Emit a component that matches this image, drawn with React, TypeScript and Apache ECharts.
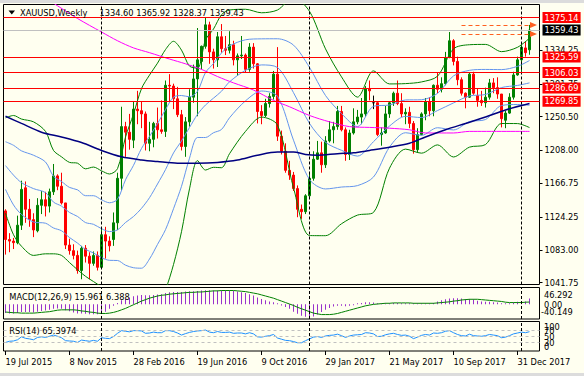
import React, { useEffect, useRef } from 'react';
import * as echarts from 'echarts';

// ---------- price data (weekly candles, bar 0 = 19 Jul 2015) ----------
const OPEN = [1132,1096,1094,1092,1114,1161,1134,1121,1107,1139,1146,1138,1156,1176,1163,1142,1089,1082,1076,1057,1085,1075,1066,1076,1061,1102,1094,1096,1117,1173,1238,1231,1221,1260,1258,1254,1217,1222,1242,1234,1232,1290,1289,1273,1253,1213,1244,1275,1298,1320,1339,1366,1332,1322,1351,1336,1334,1341,1322,1327,1328,1310,1338,1317,1257,1252,1267,1276,1304,1226,1207,1183,1177,1160,1134,1131,1151,1173,1197,1205,1190,1220,1234,1238,1257,1234,1203,1230,1244,1250,1254,1286,1268,1268,1228,1230,1254,1268,1280,1267,1254,1256,1242,1209,1228,1254,1269,1258,1290,1285,1292,1325,1346,1320,1297,1280,1275,1304,1277,1271,1268,1275,1293,1287,1279,1246,1255,1275,1303,1322,1337,1334.60];
const HIGH = [1134,1104,1098,1126,1170,1169,1147,1129,1148,1157,1156,1160,1191,1178,1180,1142,1097,1090,1082,1088,1089,1080,1081,1081,1111,1112,1100,1130,1180,1263,1244,1254,1270,1283,1270,1257,1244,1244,1262,1271,1296,1304,1292,1288,1259,1250,1285,1316,1362,1340,1375,1370,1336,1357,1367,1352,1358,1346,1330,1352,1330,1343,1343,1318,1265,1273,1280,1308,1338,1233,1217,1195,1181,1164,1140,1153,1181,1207,1220,1219,1226,1245,1244,1264,1264,1237,1234,1261,1259,1274,1289,1296,1277,1270,1237,1264,1270,1282,1296,1280,1261,1263,1245,1236,1256,1274,1275,1291,1306,1300,1332,1357,1348,1326,1300,1281,1306,1307,1286,1283,1287,1298,1299,1300,1279,1258,1280,1307,1326,1341,1345,1365.92];
const LOW = [1077,1080,1084,1090,1108,1117,1112,1099,1105,1128,1125,1130,1152,1158,1140,1084,1077,1071,1053,1046,1067,1046,1063,1057,1060,1072,1081,1088,1108,1157,1200,1209,1211,1241,1236,1208,1207,1212,1223,1229,1225,1270,1260,1250,1208,1200,1238,1268,1251,1310,1336,1317,1311,1313,1331,1328,1330,1315,1302,1323,1306,1307,1311,1242,1241,1250,1262,1272,1220,1203,1180,1171,1157,1124,1122,1128,1148,1170,1196,1180,1186,1218,1217,1234,1232,1195,1196,1228,1241,1241,1250,1271,1260,1226,1214,1229,1249,1264,1265,1250,1241,1236,1204,1205,1227,1246,1251,1251,1280,1281,1290,1324,1315,1290,1277,1261,1274,1278,1263,1264,1262,1272,1280,1273,1237,1236,1254,1272,1302,1307,1326,1328.37];
const CLOSE = [1096,1094,1092,1114,1159,1134,1121,1108,1139,1146,1138,1156,1176,1163,1142,1089,1082,1076,1057,1085,1075,1066,1076,1061,1102,1094,1088,1117,1173,1238,1231,1222,1260,1258,1254,1217,1222,1242,1234,1232,1290,1289,1273,1253,1213,1244,1275,1298,1322,1339,1366,1332,1322,1351,1336,1334,1341,1322,1327,1328,1310,1338,1317,1257,1252,1267,1276,1304,1226,1207,1183,1177,1160,1134,1131,1151,1173,1197,1205,1190,1220,1234,1238,1257,1234,1203,1230,1244,1250,1254,1286,1283,1268,1228,1230,1254,1268,1280,1267,1254,1256,1242,1209,1228,1254,1269,1258,1290,1285,1292,1325,1346,1320,1297,1280,1275,1304,1280,1271,1268,1275,1293,1287,1279,1248,1255,1275,1303,1322,1338,1331,1359.43];

// ---------- Bollinger bands (20,2) green and (20,1) light blue, read at these bars ----------
const BAND_BARS = [0,2,4,7,10,12,14,16,18,20,22,24,26,28,30,32,34,36,38,40,42,44,46,48,50,52,54,56,60,64,68,72,76,80,84,88,92,96,100,104,108,112,116,120,124,128,131];
const BB2_UPPER = [1249,1252,1247.5,1244,1232,1208,1200,1193,1192,1184.9,1187.1,1182.4,1178.4,1185.1,1224.8,1253.7,1285.8,1302.8,1317.8,1334.9,1345.3,1334.2,1314.1,1311.6,1347,1360.8,1378.7,1384.7,1385.6,1381.2,1384.7,1400.3,1383,1335.8,1300.6,1275.1,1308.1,1291.7,1292.1,1294.2,1301.4,1335.8,1341,1341.4,1332.3,1337.8,1349.2];
const BB1_UPPER = [1219,1214.5,1207.5,1202,1193.5,1175.5,1169,1161.5,1158.5,1151.1,1151.1,1146,1142.2,1146.6,1171.1,1189.3,1210.5,1225.7,1241.8,1259.4,1275.1,1277.1,1275.5,1282.5,1306.1,1317.3,1330.6,1339.5,1347.2,1348.4,1348.5,1340.5,1312.5,1277.1,1254.4,1238,1263.6,1265.2,1271.5,1271.8,1279.8,1301.8,1308.8,1309.9,1309.7,1313.8,1321.1];
const BB_MIDDLE = [1189,1177,1167.5,1160,1155,1143,1138,1130,1125,1117.3,1115.1,1109.6,1106,1108.1,1117.4,1124.9,1135.2,1148.6,1165.8,1183.9,1204.9,1220,1236.9,1253.4,1265.2,1273.8,1282.5,1294.3,1308.8,1315.6,1312.3,1280.7,1242,1218.3,1208.2,1200.9,1219.1,1238.7,1250.9,1249.4,1258.2,1267.8,1276.6,1278.4,1287.1,1289.8,1293];
const BB1_LOWER = [1159,1139.5,1127.5,1118,1116.5,1110.5,1107,1098.5,1091.5,1083.5,1079.1,1073.2,1069.8,1069.6,1063.7,1060.5,1059.9,1071.5,1089.8,1108.4,1134.7,1162.9,1198.3,1224.3,1224.3,1230.3,1234.4,1249.1,1270.4,1282.8,1276.1,1220.9,1171.5,1159.6,1162,1163.8,1174.6,1212.2,1230.3,1227,1236.6,1233.8,1244.4,1246.9,1264.5,1265.8,1264.9];
const BB2_LOWER = [1129,1102,1087.5,1076,1078,1078,1076,1067,1058,1049.7,1043.1,1036.8,1033.6,1031.1,1010,996.1,984.6,994.4,1013.8,1032.9,1064.5,1105.8,1159.7,1195.2,1183.4,1186.8,1186.3,1203.9,1232,1250,1239.9,1161.1,1101,1100.8,1115.8,1126.7,1130.1,1185.7,1209.7,1204.6,1215,1199.8,1212.2,1215.4,1241.9,1241.8,1236.8];

// ---------- moving averages (magenta, navy) ----------
const MAGENTA_BARS = [10,13,18,24,28,32,36,41,45,49,53,57,62,67,71,76,81,86,91,96,101,105,112,116,131];
const MAGENTA_MA = [1400,1390,1374,1357,1346,1337,1331,1323,1317,1310,1301,1293,1284,1271,1263,1252,1244,1238,1237,1236,1234,1230,1230,1232,1232];
const NAVY_BARS = [0,4,9,14,19,24,29,34,38,43,48,53,58,63,68,72,75,78,83,87,91,96,101,105,110,115,120,125,131];
const NAVY_MA = [1251,1242,1231,1225,1218,1208,1200,1196,1194,1192,1192,1193,1196,1202,1206,1206,1203,1202,1204,1205,1208,1212,1217,1225,1234,1242,1250,1259,1267];

// ---------- MACD(12,26,9) ----------
const MACD_HIST = [-24,-25,-25,-24,-21,-21,-21,-22,-20,-18,-17,-15,-12,-11,-12,-16,-19,-22,-25,-25,-26,-27,-27,-27,-24,-20,-12,-4,4,11,15,18,22,24,26,25,25,26,27,28,31,33,34,34,34,35,36,36,37,38,39,39,38,38,38,38,38,37,35,33,31,28,24,19,15,11,8,6,1,-3,-7,-12,-20,-26,-31,-34,-35,-33,-28,-21,-15,-10,-6,-4,-4,-5,-4,-2,2,4,6,6,5,3,2,2,3,4,4,3,3,2,1,1,1,2,2,4,8,11,14,16,17,17,16,15,15,14,10,8,7,7,6,5,2,2,3,5,7,9,8,15.961];
const MACD_SIGNAL = [-21,-22,-23,-23,-24,-24,-24,-24,-23,-22,-21,-20,-18,-16,-15,-15,-15,-15,-16,-18,-19,-21,-22,-24,-25,-25,-24,-22,-19,-15,-11,-6,-1,4,9,13,17,20,23,25,26,28,29,30,31,32,33,33,34,34,35,36,37,37,38,38,38,38,37,36,35,33,31,29,26,23,20,17,13,9,5,1,-3,-8,-12,-16,-20,-24,-26,-28,-28,-28,-27,-25,-22,-19,-16,-13,-10,-7,-4,-2,0,1,2,3,3,4,4,4,4,4,3,3,3,3,3,3,4,5,6,7,9,10,12,13,14,14,14,13,12,11,10,9,8,6,5,5,5,5,6,6.388];

// ---------- RSI(14) ----------
const RSI = [29,33,34,38,48,43,41,38,46,48,46,50,54,50,45,35,34,33,29,37,35,33,36,33,45,43,42,49,60,69,67,65,69,69,68,60,61,64,62,62,69,69,66,61,54,59,63,66,68,69,71,64,62,66,63,63,64,60,61,61,58,62,58,48,47,50,52,56,44,40,36,35,32,28,28,35,41,47,49,46,51,53,54,57,52,46,51,54,55,56,62,61,58,49,50,55,58,60,56,53,54,50,42,47,53,56,54,61,60,62,67,69,62,56,52,51,57,52,51,50,52,56,54,52,45,47,52,58,61,64,62,65.3974];
const RSI_LEVELS = [30, 50, 70];

// ---------- levels / labels ----------
const RED_LEVELS = [1375.14, 1325.59, 1306.03, 1286.69, 1269.85];
const LAST_PRICE = 1359.43;
const ARROW_LEVELS = [1365.92, 1354.5];
const ARROW_FROM_BAR = 114;
const ARROW_TO_BAR = 132;
const PRICE_TICKS = [1041.75, 1083.0, 1124.25, 1166.75, 1208.0, 1250.5, 1291.75, 1334.25];
const MACD_LABELS = ['46.292', '0.00', '-40.149'];
const RSI_LABELS = ['100', '70', '50', '30', '0'];
const SEPARATOR_BARS = [24, 76, 129];
const DATE_LABELS = ['19 Jul 2015', '8 Nov 2015', '28 Feb 2016', '19 Jun 2016', '9 Oct 2016', '29 Jan 2017', '21 May 2017', '10 Sep 2017', '31 Dec 2017'];
const DATE_LABEL_BARS = [0, 16, 32, 48, 64, 80, 96, 112, 128];
const SLOT_COUNT = 134;

const FONT = 'DejaVu Sans';
const FS = 8.25;

export default function App() {
  const ref = useRef<HTMLDivElement>(null);

  useEffect(() => {
    if (!ref.current) return;
    const chart = echarts.init(ref.current, null, { renderer: 'svg' });

    const cats = Array.from({ length: SLOT_COUNT }, (_, i) => String(i));
    const pairs = (bars: number[], vals: number[]) => bars.map((b, i) => [b, vals[i]]);
    const ind = (name: string, bars: number[], vals: number[], color: string, width = 1) => ({
      type: 'line', name, xAxisIndex: 0, yAxisIndex: 0,
      data: pairs(bars, vals), showSymbol: false, symbol: 'none', smooth: 0.3,
      lineStyle: { color, width }, z: 3, silent: true, clip: true,
    });
    const sepMarks = SEPARATOR_BARS.map((b) => ({ xAxis: b, lineStyle: { color: '#000', type: [3, 2], width: 1 } }));
    const boxLabel = (text: string, bg: string) => ({
      show: true, position: 'end', distance: 3, formatter: text,
      backgroundColor: bg, color: '#ffffff', fontFamily: FONT, fontSize: FS,
      lineHeight: 10, padding: [1, 2, 0, 2],
    });
    const arrowStyle = { color: '#ff5f1f', type: [4, 3], width: 1 };

    const candles = OPEN.map((o, i) => [o, CLOSE[i], LOW[i], HIGH[i]]);
    const isDateBar = (idx: number) => DATE_LABEL_BARS.indexOf(idx) >= 0;
    const textStyle = { fontFamily: FONT, fontSize: FS, fill: '#000' };

    const option: any = {
      animation: false,
      backgroundColor: '#fffff0',
      grid: [
        { left: 3.5, top: 4.5, width: 536, height: 280, show: true, borderColor: '#000', borderWidth: 1, backgroundColor: 'transparent' },
        { left: 3.5, top: 287.5, width: 536, height: 31.5, show: true, borderColor: '#000', borderWidth: 1, backgroundColor: 'transparent' },
        { left: 3.5, top: 321.5, width: 536, height: 29.5, show: true, borderColor: '#000', borderWidth: 1, backgroundColor: 'transparent' },
      ],
      xAxis: [0, 1, 2].map((g) => ({
        type: 'category', gridIndex: g, data: cats, boundaryGap: true,
        axisLine: { show: false }, splitLine: { show: false },
        axisTick: g === 2
          ? { show: true, alignWithLabel: true, interval: (i: number) => isDateBar(i), length: 4, lineStyle: { color: '#000' } }
          : { show: false },
        axisLabel: g === 2
          ? {
              show: true, interval: (i: number) => isDateBar(i), align: 'left', margin: 7,
              formatter: (_v: string, i: number) => DATE_LABELS[DATE_LABEL_BARS.indexOf(i)] || '',
              fontFamily: FONT, fontSize: FS, color: '#000',
            }
          : { show: false },
      })),
      yAxis: [
        {
          type: 'value', gridIndex: 0, position: 'right', min: 1039.4, max: 1391.6,
          splitLine: { show: false }, axisLine: { show: false },
          axisTick: { show: true, customValues: PRICE_TICKS, length: 3, lineStyle: { color: '#000' } },
          axisLabel: { customValues: PRICE_TICKS, formatter: (v: number) => v.toFixed(2), margin: 5, fontFamily: FONT, fontSize: FS, color: '#000' },
        },
        { type: 'value', gridIndex: 1, min: -40.149, max: 46.292, splitLine: { show: false }, axisLine: { show: false }, axisTick: { show: false }, axisLabel: { show: false } },
        { type: 'value', gridIndex: 2, min: 0, max: 100, splitLine: { show: false }, axisLine: { show: false }, axisTick: { show: false }, axisLabel: { show: false } },
      ],
      series: [
        {
          type: 'candlestick', name: 'XAUUSD', xAxisIndex: 0, yAxisIndex: 0, data: candles, barWidth: 2, z: 2,
          itemStyle: { color: '#008000', color0: '#ff0000', borderColor: '#008000', borderColor0: '#ff0000', borderWidth: 1, borderColorDoji: '#000000' },
          markLine: {
            silent: true, symbol: ['none', 'none'], animation: false, label: { show: false },
            data: [
              ...sepMarks,
              ...RED_LEVELS.map((v) => ({ yAxis: v, lineStyle: { color: '#ff0000', type: 'solid', width: 1 }, label: boxLabel(v.toFixed(2), '#ff0000') })),
              { yAxis: LAST_PRICE, lineStyle: { color: '#c0c0c0', type: 'solid', width: 1 }, label: boxLabel(LAST_PRICE.toFixed(2), '#000000') },
              ...ARROW_LEVELS.map((v) => [
                { coord: [ARROW_FROM_BAR, v], symbol: 'none', lineStyle: arrowStyle },
                { coord: [ARROW_TO_BAR, v], symbol: 'triangle', symbolSize: [6, 7], lineStyle: arrowStyle, itemStyle: { color: '#ff5f1f' } },
              ]),
            ],
          },
        },
        ind('BB2 upper', BAND_BARS, BB2_UPPER, '#008000'),
        ind('BB2 lower', BAND_BARS, BB2_LOWER, '#008000'),
        ind('BB1 upper', BAND_BARS, BB1_UPPER, '#6495ed'),
        ind('BB middle', BAND_BARS, BB_MIDDLE, '#6495ed'),
        ind('BB1 lower', BAND_BARS, BB1_LOWER, '#6495ed'),
        ind('MA magenta', MAGENTA_BARS, MAGENTA_MA, '#ff00ff'),
        ind('MA navy', NAVY_BARS, NAVY_MA, '#000080', 1.5),
        {
          type: 'bar', name: 'MACD', xAxisIndex: 1, yAxisIndex: 1, data: MACD_HIST, barWidth: 1, barMinHeight: 1,
          itemStyle: { color: '#9932cc' }, silent: true,
          markLine: { silent: true, symbol: ['none', 'none'], animation: false, label: { show: false }, data: sepMarks },
        },
        {
          type: 'line', name: 'Signal', xAxisIndex: 1, yAxisIndex: 1, data: MACD_SIGNAL, showSymbol: false, symbol: 'none',
          lineStyle: { color: '#008000', width: 1 }, silent: true, z: 3,
        },
        {
          type: 'line', name: 'RSI', xAxisIndex: 2, yAxisIndex: 2, data: RSI, showSymbol: false, symbol: 'none',
          lineStyle: { color: '#1e90ff', width: 1 }, silent: true, z: 3,
          markLine: {
            silent: true, symbol: ['none', 'none'], animation: false, label: { show: false },
            data: [
              ...RSI_LEVELS.map((v) => ({ yAxis: v, lineStyle: { color: '#c0c0c0', type: [3, 3], width: 1 } })),
              ...sepMarks,
            ],
          },
        },
      ],
      graphic: [
        { type: 'rect', shape: { x: 0, y: 0, width: 584, height: 3 }, style: { fill: '#dcdcdc' }, silent: true },
        { type: 'rect', shape: { x: 0, y: 373, width: 584, height: 3 }, style: { fill: '#dcdcdc' }, silent: true },
        { type: 'polygon', shape: { points: [[8.5, 10.5], [15, 10.5], [11.75, 14.5]] }, style: { fill: '#000' }, silent: true, z: 100 },
        { type: 'text', x: 20, y: 12.5, style: { ...textStyle, text: 'XAUUSD,Weekly', verticalAlign: 'middle' }, silent: true, z: 100 },
        {
          type: 'text', x: 99.5, y: 12.5, silent: true, z: 100,
          style: { ...textStyle, verticalAlign: 'middle', text: `${OPEN[131].toFixed(2)} ${HIGH[131].toFixed(2)} ${LOW[131].toFixed(2)} ${CLOSE[131].toFixed(2)}` },
        },
        {
          type: 'text', x: 9.3, y: 297.3, silent: true, z: 100,
          style: { ...textStyle, verticalAlign: 'middle', text: `MACD(12,26,9) ${MACD_HIST[131].toFixed(3)} ${MACD_SIGNAL[131].toFixed(3)}` },
        },
        {
          type: 'text', x: 9.3, y: 330.7, silent: true, z: 100,
          style: { ...textStyle, verticalAlign: 'middle', text: `RSI(14) ${RSI[131].toFixed(4)}` },
        },
        { type: 'text', x: 544, y: 295, silent: true, z: 100, style: { ...textStyle, verticalAlign: 'middle', text: MACD_LABELS[0] } },
        { type: 'text', x: 544, y: 304.5, silent: true, z: 100, style: { ...textStyle, verticalAlign: 'middle', text: MACD_LABELS[1] } },
        { type: 'text', x: 541, y: 312, silent: true, z: 100, style: { ...textStyle, verticalAlign: 'middle', text: MACD_LABELS[2] } },
        ...RSI_LABELS.map((t, i) => ({
          type: 'text', x: 544, y: [327, 331, 337, 343, 346.5][i], silent: true, z: 100,
          style: { ...textStyle, verticalAlign: 'middle', text: t },
        })),
      ],
    };

    chart.setOption(option);
    return () => chart.dispose();
  }, []);

  return (
    <div
      ref={ref}
      style={{ position: 'fixed', left: 0, top: 0, width: 584, height: 376, background: '#fffff0' }}
    />
  );
}
